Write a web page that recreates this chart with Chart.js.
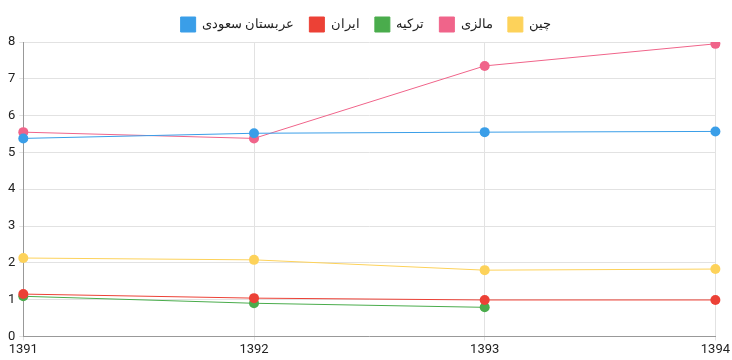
<!DOCTYPE html>
<html><head><meta charset="utf-8">
<script src="https://cdn.jsdelivr.net/npm/chart.js@4/dist/chart.umd.min.js"></script>
<style>html,body{margin:0;padding:0;background:#fff}#w{width:732px;height:360px}</style>
</head><body><div id="w"><canvas id="c"></canvas></div>
<script>
const years = ["1391","1392","1393","1394"];
const saudi = [5.38, 5.52, 5.55, 5.57];
const iran = [1.15, 1.04, 0.99, 0.99];
const turkey = [1.09, 0.90, 0.79, null];
const malaysia = [5.55, 5.38, 7.35, 7.95];
const china = [2.13, 2.08, 1.80, 1.83];
const names = ["عربستان سعودی","ایران","ترکیه","مالزی","چین"];
const colors = ["#3a9ee8","#ec4136","#4aac4c","#f0648a","#fdd25a"];
const series = [saudi, iran, turkey, malaysia, china];
Chart.defaults.font.family = "Roboto, 'Noto Sans', sans-serif";
new Chart(document.getElementById('c'), {
  type: 'line',
  data: {
    labels: years,
    datasets: series.map((d, i) => ({
      label: names[i], data: d,
      borderColor: colors[i], backgroundColor: colors[i],
      borderWidth: 1, pointRadius: 5, pointHoverRadius: 6,
      pointBorderWidth: 0, tension: 0, fill: false, spanGaps: false
    }))
  },
  options: {
    responsive: true, maintainAspectRatio: false, animation: false,
    layout: { padding: { left: 4, right: 4, top: 2, bottom: 0 } },
    plugins: {
      legend: {
        position: 'top',
        labels: { boxWidth: 15, boxHeight: 15, padding: 15, color: '#222', font: { size: 13 } }
      },
      tooltip: { enabled: false }
    },
    scales: {
      x: {
        offset: false,
        grid: { color: '#e2e2e2', tickLength: 4 },
        border: { color: '#999' },
        ticks: { color: '#222', font: { size: 13 }, maxRotation: 0, padding: 2 }
      },
      y: {
        min: 0, max: 8,
        grid: { color: '#e2e2e2', tickLength: 4 },
        border: { color: '#999' },
        ticks: { stepSize: 1, color: '#222', font: { size: 13 }, padding: 4 }
      }
    }
  }
});
</script></body></html>
